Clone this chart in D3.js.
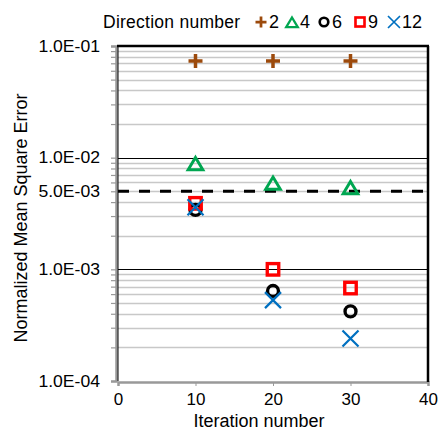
<!DOCTYPE html>
<html>
<head>
<meta charset="utf-8">
<script src="https://cdn.jsdelivr.net/npm/d3@7"></script>
<style>
  body { margin: 0; background: #fff; }
  svg text { font-family: "Liberation Sans", Arial, sans-serif; fill: #000; }
</style>
</head>
<body>
<svg width="440" height="430"></svg>
<script>
// iteration numbers on x
const iterations = [10, 20, 30];

// one array per direction number
const directions = ["2", "4", "6", "9", "12"];
const err2 = [0.0735, 0.0735, 0.0735];
const err4 = [0.0087, 0.0058, 0.0053];
const err6 = [0.0034, 0.00064, 0.00042];
const err9 = [0.0039, 0.00100, 0.00068];
const err12 = [0.0036, 0.00053, 0.00024];

const threshold = 0.005;

const xTicks = [0, 10, 20, 30, 40];
const yTickValues = [1e-1, 1e-2, 5e-3, 1e-3, 1e-4];
const yTickLabels = ["1.0E-01", "1.0E-02", "5.0E-03", "1.0E-03", "1.0E-04"];

const series = [
  { name: directions[0], values: err2, color: "#9C4A0C", shape: "plus" },
  { name: directions[1], values: err4, color: "#00A651", shape: "tri" },
  { name: directions[2], values: err6, color: "#000000", shape: "circle" },
  { name: directions[3], values: err9, color: "#FF0000", shape: "square" },
  { name: directions[4], values: err12, color: "#0070C0", shape: "x" }
];

var svg = d3.select("svg");
var pLeft = 118, pRight = 428, pTop = 46, pBottom = 381;

var x = d3.scaleLinear().domain([0, 40]).range([pLeft, pRight]);
var y = d3.scaleLog().domain([1e-4, 1e-1]).range([pBottom, pTop]);

// minor grid lines
var minor = [];
[1e-4, 1e-3, 1e-2].forEach(function(d) {
  for (var k = 2; k <= 9; k++) minor.push(d * k);
});
svg.append("g")
  .selectAll("line")
  .data(minor)
  .enter()
  .append("line")
  .attr("x1", pLeft)
  .attr("x2", pRight)
  .attr("y1", d => Math.round(y(d)) + 0.5)
  .attr("y2", d => Math.round(y(d)) + 0.5)
  .attr("stroke", "#c8c8c8")
  .attr("stroke-width", 1.5);

// major grid lines
svg.append("g")
  .selectAll("line")
  .data([1e-3, 1e-2])
  .enter()
  .append("line")
  .attr("x1", pLeft)
  .attr("x2", pRight)
  .attr("y1", d => Math.round(y(d)) + 0.5)
  .attr("y2", d => Math.round(y(d)) + 0.5)
  .attr("stroke", "#000")
  .attr("stroke-width", 1.2);

// left axis ticks (decades + minors)
var yAxis = d3.axisLeft(y)
  .tickValues([1e-4, 1e-3, 1e-2, 1e-1].concat(minor))
  .tickSize(5)
  .tickFormat("");
var ga = svg.append("g")
  .attr("transform", "translate(" + (pLeft - 2) + ",0)")
  .call(yAxis);
ga.select(".domain").attr("stroke", "#999").attr("stroke-width", 2.5);
ga.selectAll(".tick line").attr("stroke", "#999").attr("stroke-width", 1.2);

// y tick labels
svg.append("g")
  .selectAll("text")
  .data(yTickValues)
  .enter()
  .append("text")
  .attr("x", 100)
  .attr("y", d => y(d))
  .attr("dy", "0.36em")
  .attr("text-anchor", "end")
  .style("font-size", "16px")
  .attr("transform", d => `translate(100,${y(d)}) scale(1.1,1) translate(-100,${-y(d)})`)
  .text((d, i) => yTickLabels[i]);

// x axis
var xAxis = d3.axisBottom(x).tickValues(xTicks).tickSize(4).tickFormat(d3.format("d"));
var gx = svg.append("g")
  .attr("transform", "translate(0," + (pBottom + 1) + ")")
  .call(xAxis);
gx.select(".domain").attr("stroke", "#999").attr("stroke-width", 2.5);
gx.selectAll(".tick line").attr("stroke", "#999");
gx.selectAll(".tick text")
  .attr("y", 11)
  .style("font-size", "17px")
  .style("font-family", "Liberation Sans, Arial, sans-serif")
  .attr("fill", "#000");

// frame: top and right black
svg.append("line")
  .attr("x1", pLeft - 1).attr("x2", pRight + 1)
  .attr("y1", pTop).attr("y2", pTop)
  .attr("stroke", "#000").attr("stroke-width", 2.5);
svg.append("line")
  .attr("x1", pRight).attr("x2", pRight)
  .attr("y1", pTop).attr("y2", pBottom + 1)
  .attr("stroke", "#000").attr("stroke-width", 2.5);
svg.append("line")
  .attr("x1", pLeft).attr("x2", pLeft)
  .attr("y1", pTop).attr("y2", pBottom)
  .attr("stroke", "#000").attr("stroke-width", 1);

// threshold dashed line
svg.append("line")
  .attr("x1", pLeft)
  .attr("x2", pRight)
  .attr("y1", y(threshold))
  .attr("y2", y(threshold))
  .attr("stroke", "#000")
  .attr("stroke-width", 3)
  .attr("stroke-dasharray", "11,10");

function marker(g, shape, color, s) {
  if (shape === "plus") {
    g.append("path")
      .attr("d", `M${-s},0H${s}M0,${-s}V${s}`)
      .attr("stroke", color).attr("stroke-width", s * 0.5).attr("fill", "none");
  } else if (shape === "tri") {
    g.append("path")
      .attr("d", `M0,${-s}L${s * 1.05},${s * 0.75}L${-s * 1.05},${s * 0.75}Z`)
      .attr("stroke", color).attr("stroke-width", s * 0.42).attr("fill", "none")
      .attr("stroke-linejoin", "miter");
  } else if (shape === "circle") {
    g.append("circle")
      .attr("r", s * 0.78)
      .attr("stroke", color).attr("stroke-width", s * 0.48).attr("fill", "none");
  } else if (shape === "square") {
    g.append("rect")
      .attr("x", -s * 0.82).attr("y", -s * 0.82)
      .attr("width", s * 1.64).attr("height", s * 1.64)
      .attr("stroke", color).attr("stroke-width", s * 0.48).attr("fill", "none");
  } else if (shape === "x") {
    g.append("path")
      .attr("d", `M${-s},${-s}L${s},${s}M${-s},${s}L${s},${-s}`)
      .attr("stroke", color).attr("stroke-width", s * 0.28).attr("fill", "none");
  }
}

// points
series.forEach(function(sr) {
  iterations.forEach(function(it, i) {
    var g = svg.append("g")
      .attr("transform", `translate(${x(it)},${y(sr.values[i])})`);
    marker(g, sr.shape, sr.color, sr.shape === "x" ? 8 : 7);
  });
});

// legend
svg.append("text")
  .attr("x", 103)
  .attr("y", 28)
  .attr("textLength", 137)
  .style("font-size", "17.5px")
  .text("Direction number");

var legendPos = [261, 292, 324, 360, 394];
series.forEach(function(sr, i) {
  var g = svg.append("g")
    .attr("transform", `translate(${legendPos[i]},${sr.shape === "tri" ? 23 : 22})`);
  marker(g, sr.shape, sr.color, sr.shape === "x" ? 6 : 5.5);
  svg.append("text")
    .attr("x", legendPos[i] + 8)
    .attr("y", 28)
    .style("font-size", "18px")
    .text(sr.name);
});

// axis titles
svg.append("text")
  .attr("x", 259)
  .attr("y", 427)
  .attr("text-anchor", "middle")
  .style("font-size", "18px")
  .text("Iteration number");

svg.append("text")
  .attr("transform", "translate(27,218) rotate(-90)")
  .attr("text-anchor", "middle")
  .style("font-size", "18px")
  .text("Normalized Mean Square Error");
</script>
</body>
</html>
